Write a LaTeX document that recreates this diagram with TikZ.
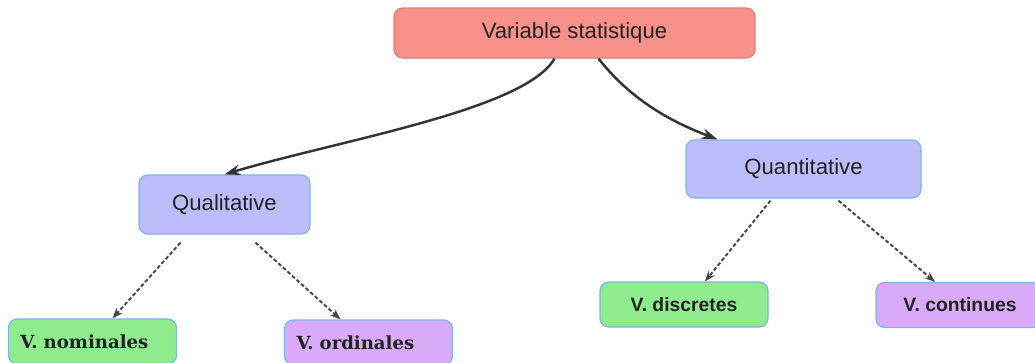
\documentclass[tikz,border=0pt]{standalone}
\usepackage{fontspec}
\setmainfont{Liberation Sans}
\newfontfamily\boxserif{DejaVu Serif}
\usepackage{xcolor}
\definecolor{VSroot}{HTML}{F8918C}
\definecolor{VSrootline}{HTML}{E27A76}
\definecolor{VSblue}{HTML}{BDBDFC}
\definecolor{VSgreen}{HTML}{8EEB8E}
\definecolor{VSpurple}{HTML}{D8AAF8}
\definecolor{VSline}{HTML}{7DB4E6}
\definecolor{VSink}{HTML}{222222}
\definecolor{VSarrow}{HTML}{333333}
\definecolor{VSdash}{HTML}{444444}
\usetikzlibrary{calc, arrows.meta, positioning}

\begin{document}
\begin{tikzpicture}[x=0.02cm, y=-0.02cm]
  \tikzset{
    box/.style={draw=VSline, line width=0.7pt, rounded corners=5pt, text=VSink, align=center, inner sep=0pt},
    upper/.style={box, font=\fontsize{12.6}{15}\selectfont},
    lower/.style={box, font=\fontsize{11}{13}\selectfont\bfseries, minimum width=168*0.02cm, minimum height=45*0.02cm},
    serifbold/.style={font=\fontsize{10.3}{13}\selectfont\boxserif\bfseries, text width=144*0.02cm, align=left},
    branch/.style={-{Stealth[length=9pt, width=6pt]}, VSarrow, line width=1.4pt},
    split/.style={-{Stealth[length=6pt, width=4.5pt]}, VSdash, line width=1.1pt, dash pattern=on 2.2pt off 1.3pt},
  }
  % page frame
  \useasboundingbox (0,0) rectangle (1035,362);

  % Root
  \node[upper, fill=VSroot, draw=VSrootline, minimum width=361*0.02cm, minimum height=50*0.02cm] (root) at (574.5,33) {Variable statistique};

  % Second level
  \node[upper, fill=VSblue, minimum width=171*0.02cm, minimum height=59*0.02cm] (qual) at (224.5,204.5) {Qualitative};
  \node[upper, fill=VSblue, minimum width=235*0.02cm, minimum height=58*0.02cm] (quant) at (803.5,169) {Quantitative};

  % Leaves
  \node[lower, fill=VSgreen, serifbold] (nomin) at (92.5,341.5) {V. nominales};
  \node[lower, fill=VSpurple, serifbold] (ordin) at (368.5,342.5) {V. ordinales};
  \node[lower, fill=VSgreen] (discr) at (684,304.5) {V. discretes};
  \node[lower, fill=VSpurple] (conti) at (960,305) {V. continues};

  % Curved branches from the root
  \draw[branch] ($(root.south)+(-20,0)$) .. controls (525,110) and (340,140) .. (qual.north);
  \draw[branch] ($(root.south)+(24,0)$) .. controls (635,105) and (680,125) .. (quant.161);

  % Dotted splits
  \draw[split] ($(qual.south)+(-44,8)$) -- ($(nomin.north)+(20,0)$);
  \draw[split] ($(qual.south)+(31,8)$) -- ($(ordin.north)+(-28,0)$);
  \draw[split] ($(quant.south)+(-33,2)$) -- ($(discr.north)+(21,0)$);
  \draw[split] ($(quant.south)+(35,2)$) -- ($(conti.north)+(-25,0)$);
\end{tikzpicture}
\end{document}
